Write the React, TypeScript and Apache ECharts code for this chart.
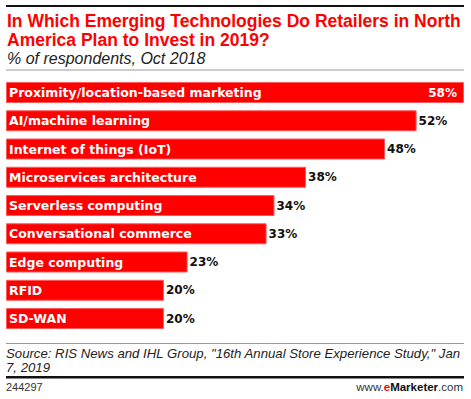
import React, { useEffect, useRef } from "react";
import * as echarts from "echarts";

const categories = [
  "Proximity/location-based marketing",
  "AI/machine learning",
  "Internet of things (IoT)",
  "Microservices architecture",
  "Serverless computing",
  "Conversational commerce",
  "Edge computing",
  "RFID",
  "SD-WAN",
];
const values = [58, 52, 48, 38, 34, 33, 23, 20, 20];

const titleLines = [
  "In Which Emerging Technologies Do Retailers in North",
  "America Plan to Invest in 2019?",
];
const subtitle = "% of respondents, Oct 2018";
const sourceLines = [
  'Source: RIS News and IHL Group, "16th Annual Store Experience Study," Jan',
  "7, 2019",
];
const chartId = "244297";

const FONT = "'Liberation Sans', Arial, sans-serif";
const BAR_FONT = "'DejaVu Sans', sans-serif";
const RED = "#ff0000";

export default function App() {
  const ref = useRef<HTMLDivElement>(null);
  useEffect(() => {
    document.body.style.margin = "0";
    if (!ref.current) return;
    const chart = echarts.init(ref.current, null, { renderer: "svg" });
    const bandTop = 78.4;
    const bandH = 28.25 * categories.length;
    chart.setOption({
      animation: false,
      backgroundColor: "#ffffff",
      grid: { left: 6, right: 7, top: bandTop, height: bandH, containLabel: false },
      xAxis: { type: "value", min: 0, max: 58, show: false },
      yAxis: { type: "category", data: categories, inverse: true, show: false },
      series: [
        {
          type: "bar",
          data: values.map((v, i) => ({
            value: v,
            label:
              i === 0
                ? { position: "insideRight", color: "#ffffff", distance: 7 }
                : { position: "right", color: "#111111", distance: 2 },
          })),
          barWidth: 21,
          itemStyle: { color: RED, borderColor: "#ff5a5a", borderWidth: 1 },
          label: {
            show: true,
            formatter: "{c}%",
            fontFamily: BAR_FONT,
            fontWeight: "bold",
            fontSize: 12,
          },
          z: 2,
        },
        {
          type: "bar",
          data: values,
          barWidth: 21,
          barGap: "-100%",
          itemStyle: { color: "transparent" },
          label: {
            show: true,
            position: "insideLeft",
            distance: 3,
            formatter: (p: any) => categories[p.dataIndex],
            color: "#ffffff",
            fontFamily: BAR_FONT,
            fontWeight: "bold",
            fontSize: 12.5,
          },
          z: 3,
          silent: true,
        },
      ],
      graphic: [
        { type: "rect", shape: { x: 6, y: 5, width: 458, height: 2 }, style: { fill: "#111111" } },
        {
          type: "text",
          x: 7,
          y: 21,
          style: { text: titleLines[0], fill: RED, font: `bold 17.5px ${FONT}`, verticalAlign: "middle" },
        },
        {
          type: "text",
          x: 7,
          y: 39.5,
          style: { text: titleLines[1], fill: RED, font: `bold 17.5px ${FONT}`, verticalAlign: "middle" },
        },
        {
          type: "text",
          x: 7,
          y: 58,
          style: { text: subtitle, fill: "#222222", font: `italic 16px ${FONT}`, verticalAlign: "middle" },
        },
        { type: "rect", shape: { x: 6, y: 69.5, width: 458, height: 1 }, style: { fill: "#999999" } },
        { type: "rect", shape: { x: 6, y: 343, width: 458, height: 1 }, style: { fill: "#999999" } },
        {
          type: "text",
          x: 6,
          y: 353,
          style: { text: sourceLines[0], fill: "#222222", font: `italic 13.2px ${FONT}`, verticalAlign: "middle" },
        },
        {
          type: "text",
          x: 6,
          y: 367,
          style: { text: sourceLines[1], fill: "#222222", font: `italic 13.2px ${FONT}`, verticalAlign: "middle" },
        },
        { type: "rect", shape: { x: 6, y: 376, width: 458, height: 2.5 }, style: { fill: "#111111" } },
        {
          type: "text",
          x: 6,
          y: 387,
          style: { text: chartId, fill: "#333333", font: `11px ${FONT}`, verticalAlign: "middle" },
        },
        {
          type: "text",
          x: 463,
          y: 387,
          style: {
            text: "{a|www.}{b|e}{c|Marketer}{a|.com}",
            align: "right",
            verticalAlign: "middle",
            rich: {
              a: { fill: "#333333", font: `11.5px ${FONT}` },
              b: { fill: RED, font: `bold 11.5px ${FONT}` },
              c: { fill: "#111111", font: `bold 11.5px ${FONT}` },
            },
          },
        },
      ],
    });
    return () => chart.dispose();
  }, []);
  return <div ref={ref} style={{ width: 471, height: 399 }} />;
}
